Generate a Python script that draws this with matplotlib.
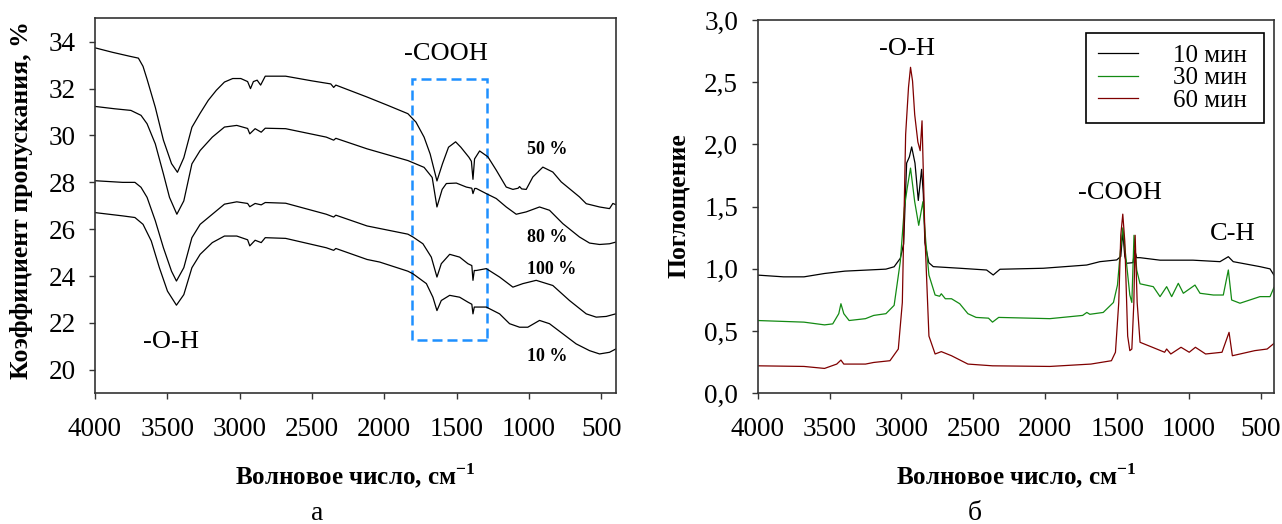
import numpy as np
import matplotlib
matplotlib.use('Agg')
import matplotlib.pyplot as plt
from matplotlib.patches import Rectangle

plt.rcParams['font.family'] = ['Liberation Serif', 'DejaVu Serif']
plt.rcParams['mathtext.fontset'] = 'custom'
plt.rcParams['mathtext.rm'] = 'Liberation Serif'
plt.rcParams['mathtext.bf'] = 'Liberation Serif:bold'

# --- panel a: transmittance, %
wn50 = [4000, 3880, 3760, 3700, 3668, 3640, 3583, 3527, 3471, 3430, 3386, 3330, 3273, 3217, 3161, 3105,
        3048, 2992, 2945, 2925, 2905, 2879, 2855, 2823, 2682, 2500, 2370, 2350, 2335, 2119, 1978, 1837,
        1781, 1725, 1683, 1654, 1636, 1598, 1556, 1507, 1471, 1415, 1398, 1387, 1376, 1341, 1284, 1226,
        1157, 1111, 1075, 1065, 1050, 1019, 973, 904, 835, 777, 651, 604, 512, 443, 420, 400]
t50 = [33.74, 33.55, 33.38, 33.3, 32.95, 32.4, 31.2, 29.8, 28.8, 28.43, 29.05, 30.35, 30.95, 31.5, 31.93, 32.28,
       32.43, 32.43, 32.3, 32.0, 32.3, 32.36, 32.15, 32.53, 32.53, 32.33, 32.2, 32.05, 32.15, 31.64, 31.29, 30.93,
       30.57, 29.93, 29.21, 28.5, 28.06, 28.79, 29.5, 29.73, 29.5, 29.07, 28.9, 28.13, 29.0, 29.34, 29.09, 28.52,
       27.8, 27.7, 27.75, 27.82, 27.72, 27.7, 28.23, 28.65, 28.44, 28.02, 27.38, 27.09, 26.95, 26.88, 27.1, 27.05]

wn80 = [4000, 3865, 3752, 3682, 3640, 3583, 3527, 3485, 3434, 3386, 3330, 3273, 3189, 3105, 3020, 2945,
        2930, 2893, 2851, 2823, 2682, 2401, 2350, 2335, 2119, 1837, 1725, 1669, 1636, 1600, 1571, 1502,
        1433, 1395, 1387, 1375, 1364, 1295, 1226, 1157, 1088, 1019, 927, 858, 766, 651, 581, 512, 443, 400]
t80 = [31.24, 31.14, 31.07, 30.86, 30.5, 29.64, 28.36, 27.36, 26.64, 27.21, 28.79, 29.36, 29.93, 30.36, 30.43, 30.3,
       30.07, 30.29, 30.14, 30.31, 30.29, 29.93, 29.8, 29.88, 29.43, 28.93, 28.64, 28.21, 26.95, 27.7, 27.95, 27.97,
       27.8, 27.75, 27.52, 27.74, 27.74, 27.52, 27.31, 26.95, 26.64, 26.74, 26.95, 26.81, 26.24, 25.67, 25.41, 25.35,
       25.38, 25.45]

wn100 = [4000, 3809, 3724, 3682, 3640, 3583, 3527, 3471, 3437, 3386, 3330, 3273, 3189, 3105, 3020, 2945,
         2930, 2893, 2851, 2823, 2682, 2401, 2350, 2335, 2119, 1837, 1802, 1733, 1675, 1636, 1606, 1548,
         1479, 1422, 1395, 1387, 1378, 1364, 1295, 1203, 1111, 1042, 950, 835, 720, 604, 535, 466, 400]
t100 = [28.07, 28.0, 28.0, 27.79, 27.36, 26.36, 25.21, 24.21, 23.79, 24.36, 25.64, 26.21, 26.64, 27.07, 27.17, 27.1,
        26.96, 27.1, 27.04, 27.14, 27.11, 26.64, 26.52, 26.6, 26.14, 25.79, 25.67, 25.38, 24.81, 23.96, 24.53, 24.93,
        24.81, 24.53, 24.45, 23.82, 24.24, 24.24, 24.32, 23.96, 23.53, 23.68, 23.82, 23.6, 22.96, 22.39, 22.25,
        22.28, 22.39]

wn10 = [4000, 3809, 3724, 3668, 3611, 3555, 3499, 3437, 3386, 3330, 3273, 3189, 3105, 3020, 2945, 2930,
        2893, 2851, 2823, 2682, 2401, 2350, 2335, 2119, 2032, 1837, 1802, 1709, 1664, 1636, 1606, 1548,
        1479, 1422, 1395, 1387, 1378, 1364, 1295, 1203, 1134, 1065, 1008, 927, 858, 766, 674, 581, 512, 443, 400]
t10 = [26.71, 26.57, 26.5, 26.21, 25.5, 24.36, 23.36, 22.76, 23.21, 24.36, 24.93, 25.43, 25.71, 25.71, 25.55, 25.29,
       25.53, 25.43, 25.64, 25.61, 25.21, 25.1, 25.18, 24.71, 24.6, 24.21, 24.1, 23.68, 23.1, 22.53, 22.96, 23.18,
       23.1, 22.89, 22.8, 22.39, 22.68, 22.68, 22.68, 22.39, 21.97, 21.82, 21.82, 22.11, 21.97, 21.54, 21.11,
       20.82, 20.68, 20.75, 20.89]

# --- panel b: absorbance
wn_10min = [4000, 3820, 3678, 3535, 3393, 3250, 3108, 3051, 3008, 2985, 2964, 2945, 2929, 2906, 2883, 2860,
            2848, 2837, 2810, 2779, 2593, 2408, 2362, 2315, 2014, 1712, 1620, 1503, 1475, 1461, 1447, 1434,
            1390, 1378, 1365, 1341, 1202, 973, 785, 727, 693, 507, 437, 410]
a_10min = [0.95, 0.936, 0.936, 0.963, 0.982, 0.99, 0.998, 1.017, 1.085, 1.2, 1.85, 1.9, 1.98, 1.85, 1.55, 1.8,
           1.6, 1.21, 1.05, 1.018, 1.005, 0.991, 0.951, 0.997, 1.005, 1.031, 1.058, 1.072, 1.1, 1.3, 1.1, 1.045,
           1.05, 1.15, 1.09, 1.09, 1.07, 1.07, 1.058, 1.098, 1.058, 1.018, 1.0, 0.95]

wn_30min = [4000, 3678, 3535, 3478, 3436, 3421, 3401, 3364, 3250, 3193, 3108, 3051, 3008, 2980, 2960, 2937,
            2908, 2880, 2851, 2831, 2809, 2766, 2735, 2723, 2695, 2652, 2595, 2538, 2481, 2395, 2367, 2324,
            1968, 1740, 1711, 1690, 1597, 1526, 1498, 1478, 1461, 1441, 1412, 1398, 1383, 1364, 1341, 1249,
            1202, 1156, 1121, 1075, 1040, 959, 924, 831, 762, 727, 704, 646, 507, 437, 410]
a_30min = [0.585, 0.572, 0.55, 0.558, 0.64, 0.72, 0.64, 0.585, 0.6, 0.626, 0.64, 0.707, 1.06, 1.49, 1.65, 1.81,
           1.54, 1.35, 1.54, 1.22, 0.95, 0.79, 0.78, 0.8, 0.76, 0.76, 0.72, 0.64, 0.61, 0.604, 0.572, 0.61,
           0.6, 0.626, 0.65, 0.635, 0.65, 0.73, 0.87, 1.14, 1.33, 1.11, 0.79, 0.73, 1.27, 0.99, 0.88, 0.857,
           0.777, 0.857, 0.777, 0.884, 0.804, 0.87, 0.804, 0.79, 0.79, 0.991, 0.75, 0.724, 0.777, 0.777, 0.85]

wn_60min = [4000, 3678, 3535, 3450, 3421, 3401, 3250, 3193, 3080, 3022, 2994, 2971, 2951, 2937, 2923, 2908,
            2886, 2870, 2857, 2837, 2809, 2766, 2723, 2652, 2538, 2367, 1968, 1683, 1540, 1512, 1489, 1475,
            1461, 1447, 1427, 1412, 1398, 1384, 1375, 1361, 1341, 1255, 1170, 1156, 1127, 1056, 999, 956,
            885, 771, 722, 699, 543, 457, 400]
a_60min = [0.221, 0.216, 0.2, 0.235, 0.267, 0.235, 0.235, 0.248, 0.262, 0.356, 0.73, 2.08, 2.46, 2.62, 2.51, 2.24,
           2.02, 1.95, 2.19, 1.27, 0.46, 0.316, 0.335, 0.302, 0.235, 0.221, 0.216, 0.235, 0.262, 0.33, 0.73, 1.27,
           1.44, 1.22, 0.46, 0.343, 0.356, 0.73, 1.27, 0.73, 0.41, 0.37, 0.33, 0.356, 0.316, 0.37, 0.33, 0.37,
           0.316, 0.33, 0.49, 0.302, 0.343, 0.356, 0.41]

fig = plt.figure(figsize=(12.82, 5.24), dpi=100)
ax1 = fig.add_axes([0.0741, 0.2494, 0.4062, 0.7157])
ax2 = fig.add_axes([0.591, 0.2494, 0.4027, 0.7124])

for ax in (ax1, ax2):
    for s in ax.spines.values():
        s.set_linewidth(1.2)
        s.set_color('#333333')
    ax.tick_params(direction='out', length=4, width=1, colors='#333333',
                   labelcolor='black', labelsize=19.5)
    ax.tick_params(axis='x', pad=13)
    ax.tick_params(axis='y', pad=10)
    ax.set_xticks([4000, 3500, 3000, 2500, 2000, 1500, 1000, 500])

# panel a
for w, t in [(wn50, t50), (wn80, t80), (wn100, t100), (wn10, t10)]:
    ax1.plot(w, t, color='black', lw=0.9)
ax1.set_xlim(4000, 400)
ax1.set_ylim(19, 35)
ax1.set_yticks(np.arange(20, 35, 2))
ax1.add_patch(Rectangle((1290, 21.28), 520, 11.13, fill=False, edgecolor='#1e90ff',
                        lw=1.8, linestyle=(0, (4, 2))))
ax1.text(1576, 33.47, '-COOH', fontsize=19, ha='center', va='center')
ax1.text(3475, 21.17, '-O-H', fontsize=19, ha='center', va='center')
for lab, yy in [('50 %', 29.41), ('80 %', 25.64), ('100 %', 24.29), ('10 %', 20.57)]:
    ax1.text(1015, yy, lab, fontsize=13, fontweight='bold', ha='left', va='center')

# panel b
ax2.plot(wn_10min, a_10min, color='black', lw=0.9, label='10 мин ')
ax2.plot(wn_30min, a_30min, color='#138a13', lw=0.9, label='30 мин ')
ax2.plot(wn_60min, a_60min, color='#7f0000', lw=0.9, label='60 мин ')
ax2.set_xlim(4000, 410)
ax2.set_ylim(0, 3.0)
ax2.set_yticks(np.arange(0, 3.01, 0.5))
ax2.set_yticklabels([f'{v:.1f}'.replace('.', ',') for v in np.arange(0, 3.01, 0.5)])
ax2.text(2962, 2.767, '-O-H', fontsize=19, ha='center', va='center')
ax2.text(1480, 1.613, '-COOH', fontsize=19, ha='center', va='center')
ax2.text(698, 1.284, 'C-H', fontsize=19, ha='center', va='center')
leg = ax2.legend(loc='upper right', bbox_to_anchor=(0.9806, 0.965), borderaxespad=0,
                 fontsize=18, handlelength=1.6, handletextpad=1.4, labelspacing=0.0,
                 fancybox=False, framealpha=1, edgecolor='black', borderpad=0.45)
leg.get_frame().set_linewidth(1.2)

# axis titles
fig.text(355 / 1282, 1 - 485 / 524, r'Волновое число, см$^{\mathbf{-1}}$', fontsize=18,
         fontweight='bold', ha='center', va='baseline')
fig.text(1016 / 1282, 1 - 485 / 524, r'Волновое число, см$^{\mathbf{-1}}$', fontsize=18,
         fontweight='bold', ha='center', va='baseline')
fig.text(22 / 1282, 1 - 200 / 524, 'Коэффициент пропускания, %', fontsize=18.5,
         fontweight='bold', rotation=90, ha='center', va='center')
fig.text(678 / 1282, 1 - 206 / 524, 'Поглощение', fontsize=18.5,
         fontweight='bold', rotation=90, ha='center', va='center')
fig.text(317 / 1282, 1 - 520 / 524, 'а', fontsize=20, ha='center', va='baseline')
fig.text(975 / 1282, 1 - 520 / 524, 'б', fontsize=20, ha='center', va='baseline')

fig.savefig('out.png', dpi=100)
